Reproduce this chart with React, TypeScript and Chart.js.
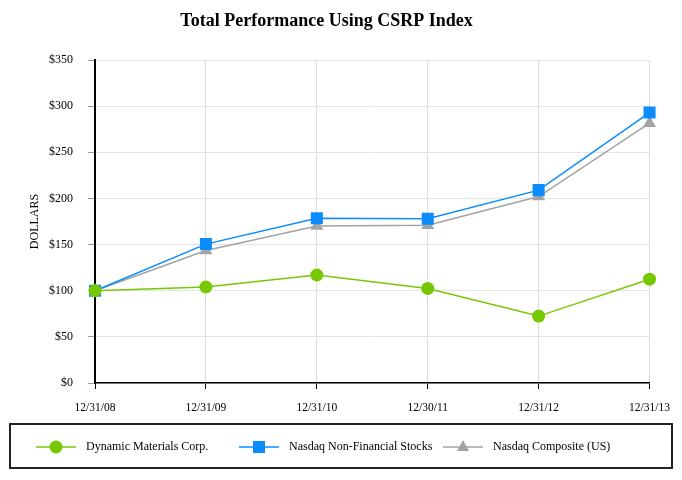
import { useEffect, useRef } from 'react';
import { Chart, registerables } from 'chart.js';

Chart.register(...registerables);

const periods = ['12/31/08', '12/31/09', '12/31/10', '12/30/11', '12/31/12', '12/31/13'];
const dynamicMaterials = [100, 104, 117, 102.5, 72.5, 112.5];
const nasdaqNonFinancial = [100, 150.5, 178.5, 178, 209, 293];
const nasdaqComposite = [100, 143.5, 170, 171, 202, 281.5];
const yTicks = [0, 50, 100, 150, 200, 250, 300, 350];

const SERIF = "'Liberation Serif', 'Times New Roman', serif";

// legend box drawn under the x labels, markers sit on a short line
const boxedLegend = {
  id: 'boxedLegend',
  afterDraw(chart: Chart) {
    const { ctx } = chart;
    ctx.save();
    ctx.strokeStyle = '#222';
    ctx.lineWidth = 2;
    ctx.strokeRect(10, 424, 662, 44);

    const slots = [36, 239, 443];
    const cy = 447;
    chart.data.datasets.forEach((ds: any, i: number) => {
      const x0 = slots[i];
      const cx = x0 + 20;
      ctx.strokeStyle = ds.borderColor;
      ctx.fillStyle = ds.backgroundColor;
      ctx.lineWidth = 1.5;
      ctx.beginPath();
      ctx.moveTo(x0, cy);
      ctx.lineTo(x0 + 40, cy);
      ctx.stroke();
      ctx.beginPath();
      if (ds.pointStyle === 'circle') {
        ctx.arc(cx, cy, 6.5, 0, Math.PI * 2);
      } else if (ds.pointStyle === 'rect') {
        ctx.rect(cx - 6, cy - 6, 12, 12);
      } else {
        ctx.moveTo(cx, cy - 7);
        ctx.lineTo(cx + 6, cy + 4);
        ctx.lineTo(cx - 6, cy + 4);
        ctx.closePath();
      }
      ctx.fill();
      ctx.fillStyle = '#000';
      ctx.font = `12px ${SERIF}`;
      ctx.textBaseline = 'middle';
      ctx.textAlign = 'left';
      ctx.fillText(ds.label, x0 + 50, cy);
    });
    ctx.restore();
  },
};

export default function App() {
  const chartRef = useRef<HTMLCanvasElement>(null);

  useEffect(() => {
    if (!chartRef.current) return;
    const ctx = chartRef.current.getContext('2d');
    if (!ctx) return;

    const chart = new Chart(ctx, {
      type: 'line',
      data: {
        labels: periods,
        datasets: [
          {
            label: 'Dynamic Materials Corp.',
            data: dynamicMaterials,
            borderColor: '#77c800',
            backgroundColor: '#77c800',
            borderWidth: 1.5,
            pointStyle: 'circle',
            pointRadius: 6.5,
            pointBorderWidth: 0,
          },
          {
            label: 'Nasdaq Non-Financial Stocks',
            data: nasdaqNonFinancial,
            borderColor: '#0a8cff',
            backgroundColor: '#0a8cff',
            borderWidth: 1.5,
            pointStyle: 'rect',
            pointRadius: 8.5,
            pointBorderWidth: 0,
          },
          {
            label: 'Nasdaq Composite (US)',
            data: nasdaqComposite,
            borderColor: '#a3a3a3',
            backgroundColor: '#a3a3a3',
            borderWidth: 1.5,
            pointStyle: 'triangle',
            pointRadius: 7.5,
            pointBorderWidth: 0,
          },
        ],
      },
      options: {
        responsive: false,
        animation: false,
        layout: { padding: { left: 0, right: 29, top: 0, bottom: 0 } },
        plugins: {
          legend: { display: false },
          tooltip: { enabled: false },
          title: {
            display: true,
            text: 'Total Performance Using CSRP Index',
            color: '#000',
            font: { family: SERIF, size: 18, weight: 'bold' },
            padding: { top: 11, bottom: 27.4 },
          },
        },
        scales: {
          x: {
            offset: false,
            grid: { color: '#dcdcdc', tickColor: '#000', tickLength: 6 },
            border: { color: '#000', width: 1.5 },
            ticks: {
              color: '#000',
              font: { family: SERIF, size: 11.5 },
              padding: 12,
              maxRotation: 0,
              autoSkip: false,
            },
            afterFit(scale: any) {
              scale.height = 97;
            },
          },
          y: {
            min: 0,
            max: 350,
            afterBuildTicks(scale: any) {
              scale.ticks = yTicks.map((v) => ({ value: v }));
            },
            grid: { color: '#e4e4e4', tickColor: '#999', tickLength: 7 },
            border: { color: '#000', width: 2 },
            ticks: {
              color: '#000',
              font: { family: SERIF, size: 12 },
              padding: 15,
              callback: (v: any) => '$' + v,
            },
            title: {
              display: true,
              text: 'DOLLARS',
              color: '#000',
              font: { family: SERIF, size: 12 },
              padding: { top: 28, bottom: 0 },
            },
            afterFit(scale: any) {
              scale.width = 95;
            },
          },
        },
      },
      plugins: [boxedLegend],
    });

    return () => chart.destroy();
  }, []);

  return (
    <div style={{ position: 'fixed', left: 0, top: 0, width: 682, height: 480, background: '#fff' }}>
      <canvas ref={chartRef} width={682} height={480} />
    </div>
  );
}
